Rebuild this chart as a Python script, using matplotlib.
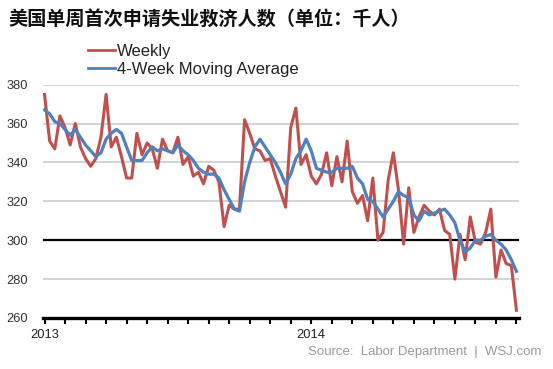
import matplotlib
matplotlib.use("Agg")
import matplotlib.pyplot as plt

title = "美国单周首次申请失业救济人数（单位：千人）"
source = "Source:  Labor Department  |  WSJ.com"
series_names = ["Weekly", "4-Week Moving Average"]

weekly = [375, 351, 347, 364, 358, 349, 360, 348, 342, 338, 342, 353, 375, 348, 353, 343,
          332, 332, 355, 344, 350, 347, 337, 352, 346, 345, 353, 339, 343, 333, 335, 329,
          338, 336, 330, 307, 318, 316, 316, 362, 355, 347, 346, 341, 342, 333, 325, 317,
          358, 368, 339, 344, 333, 329, 334, 345, 328, 343, 330, 351, 325, 319, 323, 310,
          332, 300, 304, 331, 345, 326, 298, 327, 304, 312, 318, 315, 313, 316, 305, 303,
          280, 303, 290, 312, 299, 298, 304, 316, 281, 295, 288, 287, 264]

moving_avg = [367, 365, 361, 360, 357, 354, 357, 353, 349, 346, 343, 345, 352, 355, 357, 355,
              348, 341, 341, 341, 345, 348, 346, 347, 346, 345, 349, 346, 344, 341, 337, 335,
              334, 334, 332, 326, 321, 316, 315, 330, 340, 348, 352, 348, 344, 340, 335, 329,
              334, 342, 346, 352, 346, 337, 336, 335, 335, 337, 337, 337, 338, 332, 329, 321,
              320, 316, 312, 316, 320, 325, 323, 322, 313, 310, 315, 313, 314, 315, 316, 313,
              309, 300, 294, 296, 300, 300, 302, 303, 300, 298, 295, 290, 284]

year_ticks = {0: "2013", 52: "2014"}
y_ticks = [260, 280, 300, 320, 340, 360, 380]

fig = plt.figure(figsize=(5.53, 3.69), dpi=100)
ax = fig.add_axes([43 / 553, 1 - 318 / 369, (519 - 43) / 553, (318 - 84.7) / 369])

weeks = list(range(len(weekly)))
for yv in y_ticks[1:]:
    if yv == 300:
        ax.axhline(yv, color="black", lw=1.6, zorder=1)
    else:
        ax.axhline(yv, color="#c8c8c8", lw=1.1, zorder=0)

ax.plot(weeks, weekly, color="#C0504D", lw=2.2, label=series_names[0], zorder=3)
ax.plot(weeks, moving_avg, color="#4F81BD", lw=2.3, label=series_names[1], zorder=4)

ax.set_xlim(-0.3, 92.5)
ax.set_ylim(260, 380)
ax.set_yticks(y_ticks)
ax.set_yticklabels([str(v) for v in y_ticks], fontsize=9.3, family="Liberation Sans", color="#333333")
ax.tick_params(axis="y", length=0, pad=11)

xt = list(range(0, 93, 4))
ax.set_xticks(xt)
ax.set_xticklabels([year_ticks.get(t, "") for t in xt], fontsize=9.3, family="Liberation Sans",
                   color="#222222")
ax.tick_params(axis="x", direction="out", length=4, width=1.5, color="black", pad=4)

for s in ["top", "right", "left"]:
    ax.spines[s].set_visible(False)
ax.spines["bottom"].set_linewidth(2.4)
ax.spines["bottom"].set_color("black")

leg = ax.legend(loc="upper left", bbox_to_anchor=(88 / 553, 1 - 44 / 369),
                bbox_transform=fig.transFigure, frameon=False,
                prop={"family": "Liberation Sans", "size": 12}, handlelength=1.6,
                handletextpad=0.15, labelspacing=0.2, borderpad=0, borderaxespad=0)
for line in leg.get_lines():
    line.set_linewidth(2.0)
for t in leg.get_texts():
    t.set_color("#222222")

fig.text(8 / 553, 1 - 19 / 369, title, fontsize=13.8, fontweight="bold",
         family=["Noto Sans CJK SC", "DejaVu Sans"], va="center", ha="left", color="#111111")
fig.text(541 / 553, 1 - 352 / 369, source, fontsize=9.5, family="Liberation Sans",
         color="#9a9a9a", ha="right", va="center")

fig.savefig("out.png", dpi=100)
